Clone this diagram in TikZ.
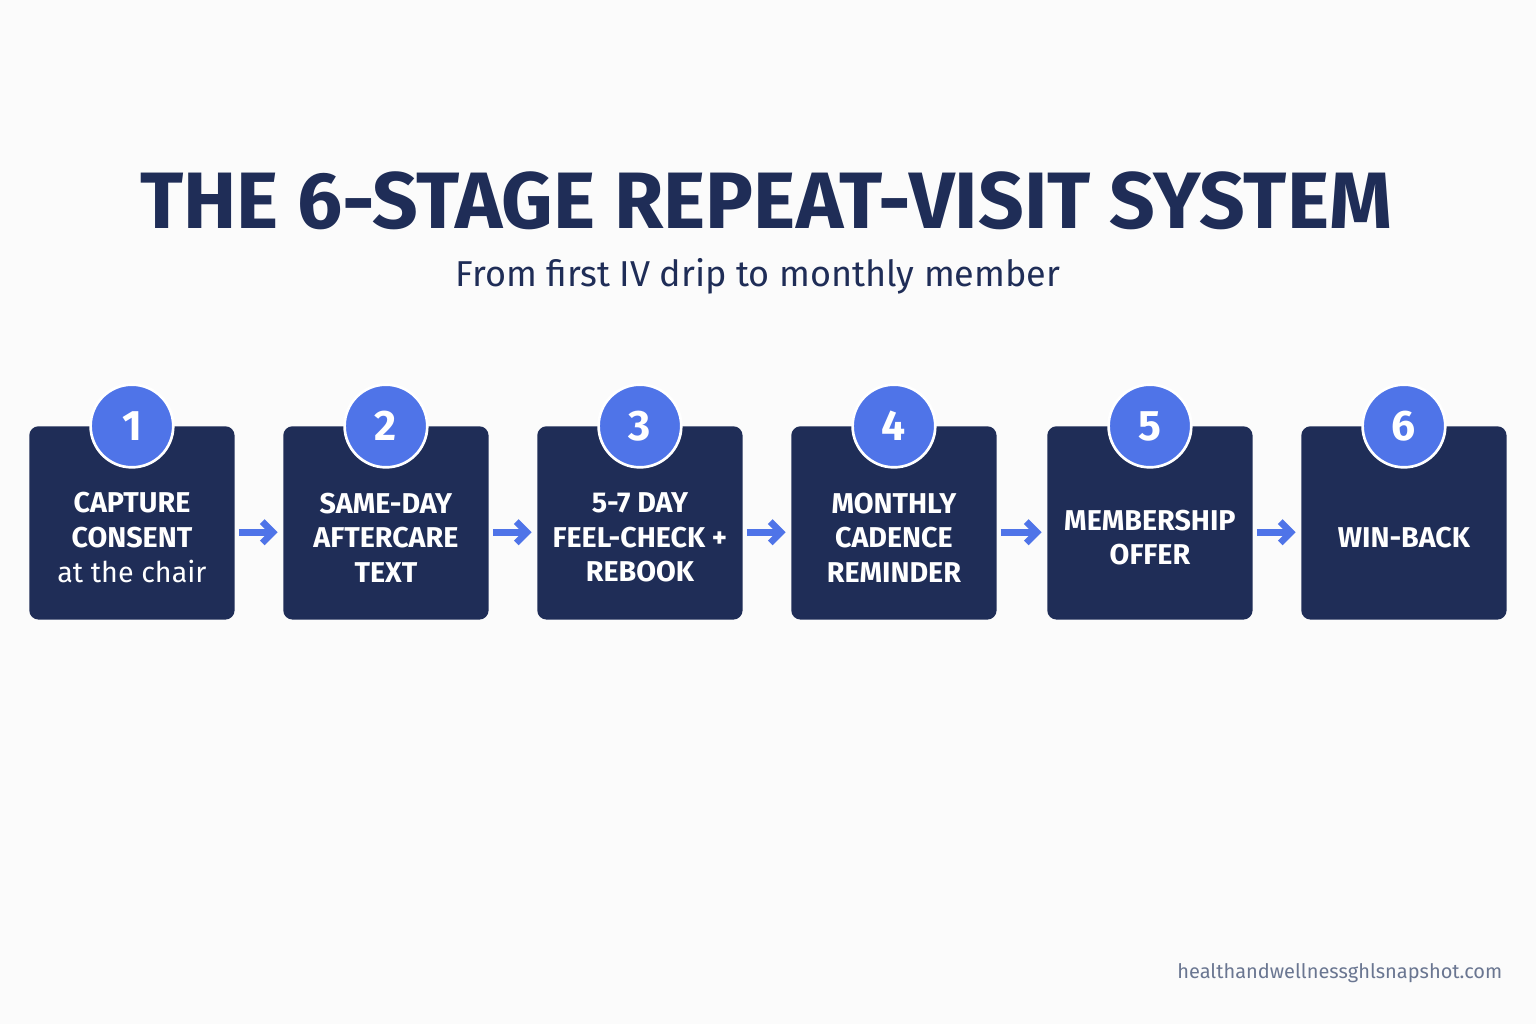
\documentclass[tikz,border=0pt]{standalone}
\usepackage{fontspec}
\usetikzlibrary{arrows.meta}
\setmainfont{Fira Sans}
\definecolor{navy}{HTML}{1F2D57}
\definecolor{blu}{HTML}{4F74E8}
\definecolor{grey}{HTML}{6A7691}
\begin{document}
\begin{tikzpicture}[x=0.75pt,y=-0.75pt,
  box/.style={fill=navy,rounded corners=7pt,minimum width=154pt,minimum height=145pt,anchor=north west,inner sep=0pt},
  lbl/.style={text=white,font=\fontsize{21.5}{26}\selectfont\bfseries,align=center},
  num/.style={circle,fill=blu,draw=white,line width=2pt,minimum size=62pt,text=white,font=\fontsize{32}{32}\selectfont\bfseries},
  arr/.style={draw=blu,line width=5pt,-{Straight Barb[length=8pt,width=16pt]}}]
\useasboundingbox (0,0) rectangle (1536,1024);
\fill[white!97!gray] (0,0) rectangle (1536,1024);
\node[text=navy,font=\fontsize{60}{66}\selectfont\bfseries] (title) at (766,201) {THE 6-STAGE REPEAT-VISIT SYSTEM};
\node[text=navy,font=\fontsize{27}{32}\selectfont] (sub) at (758,276) {From first IV drip to monthly member};
\foreach \i/\x/\t in {1/29/{CAPTURE\\CONSENT\\{\mdseries at the chair}},2/283/{SAME-DAY\\AFTERCARE\\TEXT},3/537/{5-7 DAY\\FEEL-CHECK +\\REBOOK},4/791/{MONTHLY\\CADENCE\\REMINDER},5/1047/{MEMBERSHIP\\OFFER},6/1301/{WIN-BACK}}{
  \node[box] (b\i) at (\x,426) {};
  \node[lbl] (t\i) at ([yshift=-11pt]b\i.center) {\t};
  \node[num] (n\i) at (b\i.north) {\i};
}
\foreach \a/\b in {1/2,2/3,3/4,4/5,5/6}{
  \draw[arr] ([xshift=3pt,yshift=-7pt]b\a.east) -- ([xshift=-4pt,yshift=-7pt]b\b.west);
}
\node[text=grey,font=\fontsize{15}{18}\selectfont,anchor=east] (url) at (1507,973) {healthandwellnessghlsnapshot.com};
\end{tikzpicture}
\end{document}
